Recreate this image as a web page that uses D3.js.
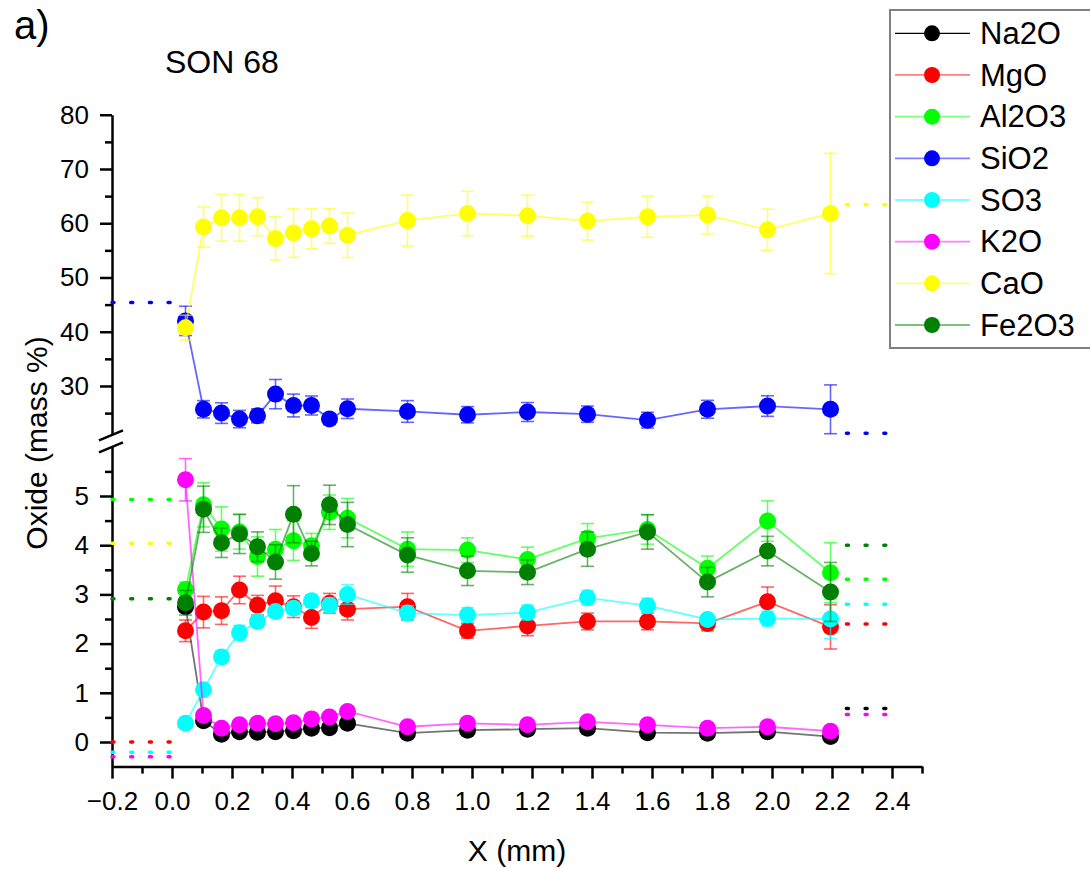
<!DOCTYPE html>
<html>
<head>
<meta charset="utf-8">
<script src="https://cdn.jsdelivr.net/npm/d3@7/dist/d3.min.js"></script>
<style>
  html, body { margin: 0; padding: 0; background: #fff; }
  svg { display: block; font-family: "Liberation Sans", Arial, sans-serif; }
</style>
</head>
<body>
<svg id="chart" width="1090" height="869"></svg>
<script>
// Sampling depths (mm)
const depths = [0.045, 0.105, 0.165, 0.225, 0.285, 0.345, 0.405, 0.465, 0.525, 0.585,
                0.785, 0.985, 1.185, 1.385, 1.585, 1.785, 1.985, 2.195];

// Oxide contents (mass %) and their uncertainties
const na2o    = [2.75, 0.43, 0.16, 0.21, 0.20, 0.21, 0.23, 0.28, 0.29, 0.38, 0.18, 0.24, 0.26, 0.28, 0.19, 0.18, 0.21, 0.11];
const na2oErr = [0.08, 0.06, 0.04, 0.04, 0.04, 0.04, 0.04, 0.04, 0.04, 0.04, 0.03, 0.03, 0.03, 0.03, 0.03, 0.03, 0.03, 0.05];

const mgo     = [2.26, 2.64, 2.67, 3.09, 2.78, 2.87, 2.75, 2.53, 2.82, 2.70, 2.75, 2.26, 2.36, 2.45, 2.45, 2.41, 2.85, 2.34];
const mgoErr  = [0.22, 0.32, 0.28, 0.28, 0.20, 0.30, 0.22, 0.22, 0.20, 0.22, 0.27, 0.15, 0.20, 0.17, 0.17, 0.15, 0.30, 0.45];

const al2o3    = [3.10, 4.82, 4.33, 4.27, 3.77, 3.92, 4.09, 3.99, 4.67, 4.55, 3.92, 3.90, 3.71, 4.14, 4.32, 3.53, 4.49, 3.44];
const al2o3Err = [0.15, 0.45, 0.45, 0.35, 0.40, 0.40, 0.40, 0.25, 0.35, 0.40, 0.35, 0.25, 0.25, 0.30, 0.30, 0.25, 0.41, 0.61];

const sio2    = [42.0, 25.7, 25.0, 23.9, 24.5, 28.5, 26.4, 26.4, 23.9, 25.8, 25.3, 24.7, 25.2, 24.8, 23.7, 25.7, 26.3, 25.7];
const sio2Err = [2.7, 1.6, 1.9, 1.6, 1.3, 2.7, 2.1, 1.75, 1.0, 1.8, 2.0, 1.5, 1.75, 1.5, 1.45, 1.65, 1.9, 4.5];

const so3     = [0.38, 1.06, 1.73, 2.22, 2.45, 2.65, 2.72, 2.87, 2.78, 3.00, 2.62, 2.58, 2.63, 2.93, 2.77, 2.49, 2.51, 2.50];
const so3Err  = [0.05, 0.08, 0.12, 0.15, 0.12, 0.10, 0.12, 0.12, 0.15, 0.20, 0.15, 0.15, 0.15, 0.15, 0.15, 0.10, 0.15, 0.40];

const k2o     = [5.33, 0.54, 0.28, 0.35, 0.38, 0.37, 0.39, 0.47, 0.51, 0.62, 0.31, 0.38, 0.35, 0.41, 0.35, 0.28, 0.31, 0.22];
const k2oErr  = [0.43, 0.05, 0.04, 0.04, 0.04, 0.04, 0.04, 0.04, 0.04, 0.04, 0.03, 0.03, 0.03, 0.03, 0.03, 0.03, 0.03, 0.04];

const cao     = [40.75, 59.3, 61.0, 61.0, 61.2, 57.2, 58.2, 59.0, 59.5, 57.8, 60.5, 61.8, 61.4, 60.4, 61.2, 61.5, 58.8, 61.8];
const caoErr  = [2.3, 3.7, 4.3, 4.3, 3.5, 4.0, 4.5, 3.7, 3.2, 4.1, 4.7, 4.1, 3.8, 3.5, 3.8, 3.5, 3.8, 11.1];

const fe2o3    = [2.83, 4.73, 4.05, 4.23, 3.97, 3.66, 4.63, 3.83, 4.82, 4.42, 3.80, 3.48, 3.45, 3.92, 4.27, 3.25, 3.88, 3.05];
const fe2o3Err = [0.25, 0.47, 0.30, 0.40, 0.30, 0.35, 0.58, 0.25, 0.40, 0.45, 0.35, 0.30, 0.25, 0.35, 0.35, 0.30, 0.30, 0.60];

// Reference levels: pristine glass (left of 0) and solution side (right)
const glassLevels    = [null, 0.0, 4.93, 45.4, -0.21, -0.30, 4.04, 2.91];
const solutionLevels = [0.68, 2.40, 3.31, 21.3, 2.80, 0.56, 63.4, 4.00];

const names  = ["Na2O", "MgO", "Al2O3", "SiO2", "SO3", "K2O", "CaO", "Fe2O3"];
const colors = ["#000000", "#ff0000", "#00ff00", "#0000ff", "#00ffff", "#ff00ff", "#ffff00", "#008000"];
const values = [na2o, mgo, al2o3, sio2, so3, k2o, cao, fe2o3];
const errors = [na2oErr, mgoErr, al2o3Err, sio2Err, so3Err, k2oErr, caoErr, fe2o3Err];

const xTicks      = d3.range(-0.2, 2.41, 0.2).map(v => +v.toFixed(1));
const upperTicks  = [30, 40, 50, 60, 70, 80];
const lowerTicks  = [0, 1, 2, 3, 4, 5];

const svg = d3.select("#chart");

// Scales: x, and a broken y axis with two segments
const x = d3.scaleLinear().domain([-0.2, 2.5]).range([112, 922]);
const yUpper = d3.scaleLinear().domain([21, 80]).range([434.8, 114.75]);
const yLower = d3.scaleLinear().domain([-0.5, 6]).range([766.6, 446.8]);
const y = v => (v > 10 ? yUpper(v) : yLower(v));

const tickFont = "26px";

// X axis
const xAxisG = svg.append("g").attr("transform", `translate(0,${yLower(-0.5)})`);
xAxisG.call(d3.axisBottom(x).tickValues(xTicks).tickSize(12).tickSizeOuter(0).tickPadding(13)
  .tickFormat(d3.format(".1f")));
xAxisG.append("g").call(d3.axisBottom(x).tickValues(d3.range(-0.1, 2.55, 0.2).map(v => +v.toFixed(1)))
  .tickSize(7).tickFormat("")).select(".domain").remove();

// Y axis, upper and lower segments
const yUpG = svg.append("g").attr("transform", `translate(${x(-0.2)},0)`);
yUpG.call(d3.axisLeft(yUpper).tickValues(upperTicks).tickSize(12).tickSizeOuter(0).tickPadding(11)
  .tickFormat(d3.format("d")));
yUpG.append("g").call(d3.axisLeft(yUpper).tickValues([25, 35, 45, 55, 65, 75]).tickSize(7).tickFormat(""))
  .select(".domain").remove();

const yLoG = svg.append("g").attr("transform", `translate(${x(-0.2)},0)`);
yLoG.call(d3.axisLeft(yLower).tickValues(lowerTicks).tickSize(12).tickSizeOuter(0).tickPadding(11)
  .tickFormat(d3.format("d")));
yLoG.append("g").call(d3.axisLeft(yLower).tickValues([0.5, 1.5, 2.5, 3.5, 4.5, 5.5]).tickSize(7).tickFormat(""))
  .select(".domain").remove();

svg.selectAll(".tick text").attr("font-size", tickFont).attr("font-family", "Liberation Sans, Arial, sans-serif").attr("fill", "#000");
svg.selectAll(".domain, .tick line").attr("stroke", "#000").attr("stroke-width", 2.5);

// Axis break marks
const bx = x(-0.2);
[yUpper(21) + 0.5, yLower(6) + 0.5].forEach(by => {
  svg.append("line")
    .attr("x1", bx - 13).attr("y1", by + 5)
    .attr("x2", bx + 11).attr("y2", by - 5)
    .attr("stroke", "#000").attr("stroke-width", 2.5);
});

// Reference dotted levels
function dotted(x0, x1, v, c) {
  svg.append("line")
    .attr("x1", x(x0)).attr("x2", x(x1))
    .attr("y1", y(v)).attr("y2", y(v))
    .attr("stroke", c).attr("stroke-width", 3.5)
    .attr("stroke-linecap", "round")
    .attr("stroke-dasharray", "2,16.7");
}
names.forEach((n, i) => {
  if (glassLevels[i] !== null) dotted(-0.2, 0.0, glassLevels[i], colors[i]);
  if (solutionLevels[i] !== null) dotted(2.248, 2.40, solutionLevels[i], colors[i]);
});

// Series: connecting line, error bars, markers
const line = d3.line().x((d, i) => x(depths[i])).y(d => y(d));
names.forEach((n, s) => {
  const g = svg.append("g").attr("class", "series");
  const c = colors[s];
  g.append("path")
    .datum(values[s])
    .attr("d", line)
    .attr("fill", "none")
    .attr("stroke", c)
    .attr("stroke-opacity", s === 0 ? 0.55 : 0.6)
    .attr("stroke-width", 1.8);
  const eb = g.append("g").attr("stroke", c).attr("stroke-opacity", 0.6).attr("stroke-width", 1.6);
  values[s].forEach((v, i) => {
    const e = errors[s][i];
    const cx = x(depths[i]);
    const yt = y(v + e), yb = y(v - e);
    eb.append("line").attr("x1", cx).attr("x2", cx).attr("y1", yt).attr("y2", yb);
    eb.append("line").attr("x1", cx - 6.5).attr("x2", cx + 6.5).attr("y1", yt).attr("y2", yt);
    eb.append("line").attr("x1", cx - 6.5).attr("x2", cx + 6.5).attr("y1", yb).attr("y2", yb);
  });
  g.selectAll("circle")
    .data(values[s])
    .join("circle")
    .attr("cx", (d, i) => x(depths[i]))
    .attr("cy", d => y(d))
    .attr("r", 8.5)
    .attr("fill", c);
});

// Axis titles and panel labels
svg.append("text")
  .attr("x", x(1.15)).attr("y", 861)
  .attr("text-anchor", "middle")
  .attr("font-size", "30px")
  .text("X (mm)");

svg.append("text")
  .attr("transform", "translate(47,443) rotate(-90)")
  .attr("text-anchor", "middle")
  .attr("font-size", "30px")
  .text("Oxide (mass %)");

svg.append("text")
  .attr("x", 165).attr("y", 73)
  .attr("font-size", "32px")
  .text("SON 68");

svg.append("text")
  .attr("x", 14).attr("y", 39)
  .attr("font-size", "40px")
  .text("a)");

// Legend
const lg = svg.append("g");
lg.append("rect")
  .attr("x", 890).attr("y", 10)
  .attr("width", 215).attr("height", 338)
  .attr("fill", "#fff")
  .attr("stroke", "#808080")
  .attr("stroke-width", 2);
names.forEach((n, i) => {
  const ry = 33.3 + i * 41.67;
  lg.append("line")
    .attr("x1", 895).attr("x2", 970)
    .attr("y1", ry).attr("y2", ry)
    .attr("stroke", colors[i])
    .attr("stroke-opacity", i === 0 ? 1 : 0.5)
    .attr("stroke-width", i === 0 ? 1.2 : 1.8);
  lg.append("circle")
    .attr("cx", 932).attr("cy", ry).attr("r", 8)
    .attr("fill", colors[i]);
  lg.append("text")
    .attr("x", 980).attr("y", ry + 10.8)
    .attr("font-size", "31px")
    .text(n);
});
</script>
</body>
</html>
